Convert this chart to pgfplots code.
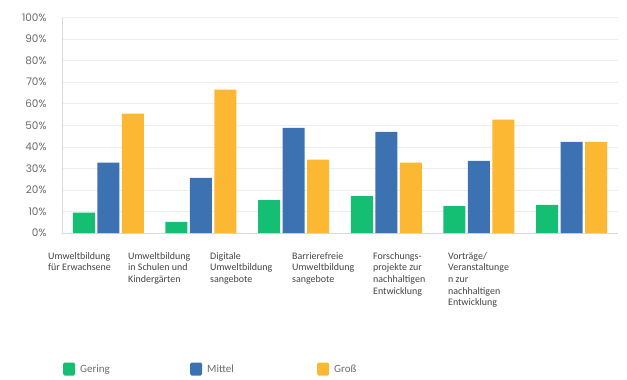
\documentclass[border=0pt]{standalone}
\usepackage{pgfplots}
\pgfplotsset{compat=1.18}
\usepackage{fontspec}
\setmainfont{Carlito}
\newfontfamily\tickfont{Poppins}
\definecolor{cgreen}{HTML}{14BE72}
\definecolor{cblue}{HTML}{3D72B2}
\definecolor{cyellow}{HTML}{FCB832}
\definecolor{labtext}{HTML}{444444}
\definecolor{ticktext}{HTML}{6A6A6A}
\begin{document}
\begin{tikzpicture}
\path[use as bounding box] (-62bp,-147bp) rectangle (565bp,233bp);
\begin{axis}[
  at={(0,0)}, anchor=south west,
  scale only axis, width=556bp, height=215.5bp,
  xmin=-0.5, xmax=5.5, ymin=0, ymax=100,
  ybar=2.5bp, bar width=22bp,
  axis x line*=bottom, axis y line*=left,
  axis line style={draw=black!15, -},
  xtick=\empty,
  ytick={0,10,...,100},
  yticklabels={0\%,10\%,20\%,30\%,40\%,50\%,60\%,70\%,80\%,90\%,100\%},
  yticklabel style={font=\tickfont\fontsize{10.5}{11}\selectfont, text=ticktext, xshift=-12bp},
  major tick length=0pt,
  ymajorgrids, grid style={draw=black!7, line width=0.6pt},
  clip=false,
  legend columns=3,
  legend style={draw=none, fill=none, at={(axis cs:-0.5,0)}, anchor=west, xshift=-2bp, yshift=-136bp,
    font=\fontsize{11}{12}\selectfont, text=ticktext,
    nodes={text width=105bp, align=left, inner xsep=5bp},
    /tikz/every even column/.append style={column sep=0bp}},
  legend image code/.code={\fill[#1, rounded corners=1.5bp] (0bp,-6.5bp) rectangle (12bp,6.5bp);},
]
\addplot[fill=cgreen, draw=none] coordinates {(0,9.4) (1,5.2) (2,15.3) (3,17.1) (4,12.5) (5,13.0)};
\addplot[fill=cblue, draw=none] coordinates {(0,32.7) (1,25.6) (2,48.8) (3,46.9) (4,33.5) (5,42.3)};
\addplot[fill=cyellow, draw=none] coordinates {(0,55.4) (1,66.5) (2,34.1) (3,32.7) (4,52.6) (5,42.3)};
\legend{Gering, Mittel, Groß}
\tikzset{catlab/.style={anchor=north west, align=left, inner sep=0pt, yshift=-19bp, text=labtext, font=\fontsize{10}{11.7}\selectfont}}
\node[catlab] at (axis cs:-0.651,0) {Umweltbildung\\für Erwachsene};
\node[catlab] at (axis cs:0.212,0) {Umweltbildung\\in Schulen und\\Kindergärten};
\node[catlab] at (axis cs:1.097,0) {Digitale\\Umweltbildung\\sangebote};
\node[catlab] at (axis cs:1.982,0) {Barrierefreie\\Umweltbildung\\sangebote};
\node[catlab] at (axis cs:2.856,0) {Forschungs-\\projekte zur\\nachhaltigen\\Entwicklung};
\node[catlab] at (axis cs:3.665,0) {Vorträge/\\Veranstaltunge\\n zur\\nachhaltigen\\Entwicklung};
\end{axis}
\end{tikzpicture}
\end{document}
